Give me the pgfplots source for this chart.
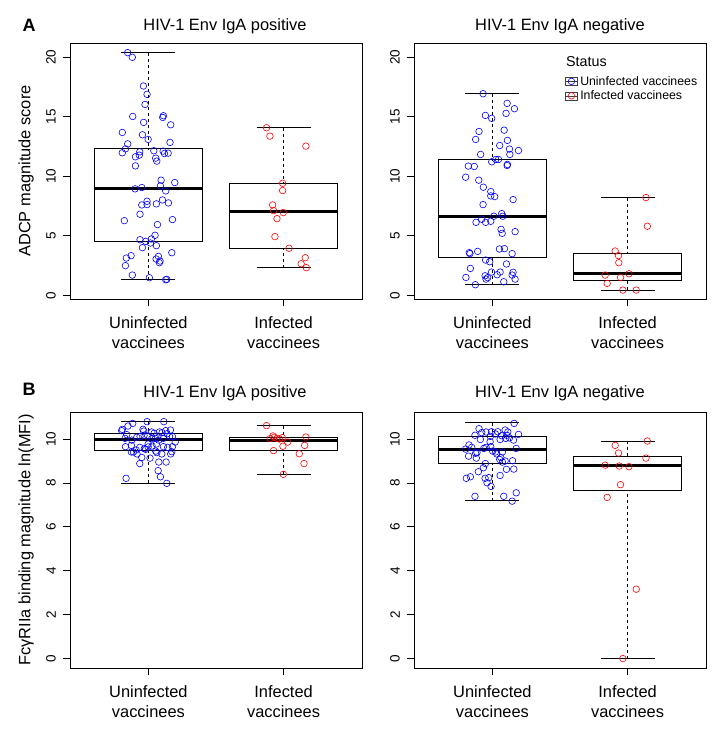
\documentclass[border=0pt]{standalone}
\usepackage{fontspec}
\setmainfont{Liberation Sans}
\usepackage{pgfplots}
\pgfplotsset{compat=1.18}
\usepgfplotslibrary{statistics}

\newcommand{\lbl}{\fontsize{16.4bp}{20bp}\selectfont}

\pgfplotsset{
  boxplot/draw/lower whisker/.code={
    \draw[black, line width=0.8bp, dash pattern=on 3bp off 3bp]
      (boxplot box cs:\pgfplotsboxplotvalue{lower whisker},0.5) -- (boxplot box cs:\pgfplotsboxplotvalue{lower quartile},0.5);
    \draw[black, line width=0.8bp]
      (boxplot whisker cs:\pgfplotsboxplotvalue{lower whisker},0) -- (boxplot whisker cs:\pgfplotsboxplotvalue{lower whisker},1);
  },
  boxplot/draw/upper whisker/.code={
    \draw[black, line width=0.8bp, dash pattern=on 3bp off 3bp]
      (boxplot box cs:\pgfplotsboxplotvalue{upper whisker},0.5) -- (boxplot box cs:\pgfplotsboxplotvalue{upper quartile},0.5);
    \draw[black, line width=0.8bp]
      (boxplot whisker cs:\pgfplotsboxplotvalue{upper whisker},0) -- (boxplot whisker cs:\pgfplotsboxplotvalue{upper whisker},1);
  },
  boxplot/every median/.style={line width=3bp},
  rbp/.style n args={6}{black, line width=0.8bp,
    boxplot prepared={draw direction=y, draw position=#1, lower whisker=#2, lower quartile=#3,
      median=#4, upper quartile=#5, upper whisker=#6,
      box extend=0.8, whisker extend=0.4}},
  uv/.style={only marks, mark=o, blue, mark size=3.3bp, mark options={line width=0.6bp}},
  iv/.style={only marks, mark=o, red, mark size=3.3bp, mark options={line width=0.6bp}},
  rpanel/.style={
    scale only axis, width=292bp, height=256bp,
    xmin=0.42, xmax=2.58,
    xtick={1,2}, xticklabels={Uninfected\\vaccinees, Infected\\vaccinees},
    xticklabel style={align=center, font=\lbl, inner sep=1bp, yshift=-9bp},
    tick align=outside, xtick pos=bottom, ytick pos=left,
    major tick length=7bp, minor tick num=0,
    yticklabel style={rotate=90, anchor=south, inner xsep=1bp, inner ysep=7bp, font=\fontsize{13.5bp}{16bp}\selectfont},
    /pgf/number format/assume math mode=true,
    axis line style={line width=0.8bp},
    every tick/.style={black, line width=0.8bp},
    title style={font=\lbl, at={(0.5,1)}, anchor=base, yshift=7bp},
    every axis y label/.style={at={(axis description cs:-0.150,0.5)}, rotate=90, anchor=center, font=\lbl},
  },
}

\begin{document}
\begin{tikzpicture}
\path (0,0) rectangle (722bp,-731bp);

\node[anchor=base west, font=\bfseries\fontsize{18bp}{20bp}\selectfont] at (19bp,-31bp) {A};
\node[anchor=base west, font=\bfseries\fontsize{18bp}{20bp}\selectfont] at (19bp,-395bp) {B};

% A, IgA positive
\begin{axis}[rpanel, at={(70bp,-43bp)}, anchor=north west,
  ymin=-0.3, ymax=21.2, ytick={0,5,10,15,20},
  title={HIV-1 Env IgA positive}, title style={xshift=9bp},
  ylabel={ADCP magnitude score}]
\addplot[rbp={1}{1.32}{4.54}{8.98}{12.31}{20.39}] coordinates {};
\addplot[rbp={2}{2.33}{3.96}{7.01}{9.40}{14.08}] coordinates {};
\addplot[uv] coordinates {
(0.847,20.39)(0.881,20.0)(0.963,17.59)(0.990,16.89)(0.975,16.04)(0.884,15.03)(1.111,15.09)(1.106,14.95)
(0.965,14.53)(1.165,14.33)(0.807,13.69)(0.956,13.49)(0.998,13.10)(0.847,12.73)(1.160,12.85)(0.830,12.31)
(0.807,11.98)(0.936,12.06)(1.040,12.15)(1.109,12.12)(0.933,11.78)(0.904,11.64)(1.119,11.92)(1.146,11.95)
(1.054,11.53)(1.062,11.28)(0.904,10.88)(1.094,9.68)(1.195,9.48)(0.901,8.95)(0.951,9.06)(1.089,9.20)
(1.128,8.78)(0.990,7.91)(1.104,8.02)(0.951,7.60)(0.990,7.63)(1.059,7.69)(1.148,7.77)(0.938,6.82)
(0.822,6.28)(1.067,5.95)(1.178,6.37)(1.049,5.05)(1.022,4.74)(0.938,4.68)(0.980,4.54)(1.015,4.40)
(0.956,4.01)(1.059,4.18)(1.173,3.59)(0.872,3.34)(0.837,3.14)(1.074,3.28)(1.057,3.06)(1.086,2.89)
(1.081,2.75)(0.830,2.50)(0.881,1.71)(1.007,1.49)(1.128,1.32)(1.136,1.35)
};
\addplot[iv] coordinates {
(1.874,14.08)(1.899,13.38)(2.165,12.54)(1.993,9.42)(1.993,8.81)(1.919,7.60)(1.926,7.12)
(1.998,6.96)(1.951,6.45)(1.936,4.94)(2.040,3.96)(2.160,3.17)(2.130,2.66)(2.168,2.33)
};
\end{axis}

% A, IgA negative
\begin{axis}[rpanel, at={(414bp,-43bp)}, anchor=north west,
  ymin=-0.3, ymax=21.2, ytick={0,5,10,15,20},
  title={HIV-1 Env IgA negative},
  legend style={at={(axis description cs:0.517,0.875)}, anchor=north west, draw=none, fill=none,
    inner sep=0pt, font=\fontsize{12.3bp}{14bp}\selectfont, row sep=2bp,
    nodes={inner xsep=2.5bp, inner ysep=1bp}},
  legend cell align=left]
\addlegendimage{legend image code/.code={
  \draw[black!75, line width=0.6bp] (0bp,-4bp) rectangle (12bp,4bp);
  \draw[black!75, line width=0.6bp] (0bp,0bp) -- (12bp,0bp);
  \draw[blue, line width=0.6bp] (6bp,0bp) circle (3.3bp);}}
\addlegendentry{Uninfected vaccinees}
\addlegendimage{legend image code/.code={
  \draw[black!75, line width=0.6bp] (0bp,-4bp) rectangle (12bp,4bp);
  \draw[black!75, line width=0.6bp] (0bp,0bp) -- (12bp,0bp);
  \draw[red, line width=0.6bp] (6bp,0bp) circle (3.3bp);}}
\addlegendentry{Infected vaccinees}
\node[anchor=base west, font=\fontsize{14.3bp}{16bp}\selectfont] at (axis description cs:0.509,0.910) {Status};
\addplot[rbp={1}{0.90}{3.23}{6.65}{11.39}{16.94}] coordinates {};
\addplot[rbp={2}{0.45}{1.26}{1.82}{3.51}{8.22}] coordinates {};
\addplot[uv] coordinates {
(0.931,16.94)(1.109,16.13)(1.163,15.68)(0.948,15.12)(0.995,14.87)(1.101,15.29)(0.901,13.77)(1.087,13.88)
(0.876,13.10)(1.111,13.02)(1.054,12.59)(1.126,12.29)(1.193,12.17)(0.913,11.84)(1.129,11.84)(0.995,11.22)
(1.025,11.42)(1.045,11.42)(1.111,11.00)(1.109,10.91)(0.822,10.86)(0.866,10.83)(0.802,9.93)(0.899,9.68)
(0.933,9.09)(0.988,8.72)(1.017,8.30)(0.988,8.36)(1.153,8.05)(0.931,7.63)(1.168,5.36)(1.064,5.55)
(1.072,5.22)(1.010,6.65)(1.069,6.87)(1.077,6.65)(0.921,6.40)(0.988,6.23)(0.950,6.14)(0.879,6.14)
(0.891,3.70)(0.829,3.59)(0.834,3.51)(1.052,3.90)(1.089,3.93)(1.146,3.51)(0.950,2.97)(0.980,2.83)
(1.104,2.64)(0.837,2.27)(0.993,1.96)(1.057,1.96)(1.153,1.94)(1.146,1.71)(1.035,1.74)(0.804,1.51)
(0.946,1.65)(0.965,1.49)(0.953,1.37)(1.168,1.37)(1.084,1.15)(0.874,0.90)
};
\addplot[iv] coordinates {
(2.136,8.22)(2.146,5.81)(1.908,3.73)(1.933,3.34)(1.935,2.75)(1.834,1.71)
(2.010,1.82)(1.948,1.51)(1.849,1.01)(1.965,0.45)(2.064,0.45)
};
\end{axis}

% B, IgA positive
\begin{axis}[rpanel, at={(70bp,-412bp)}, anchor=north west,
  ymin=-0.43, ymax=11.23, ytick={0,2,4,6,8,10},
  title={HIV-1 Env IgA positive}, title style={xshift=9bp, yshift=2bp},
  ylabel={FcγRIIa binding magnitude ln(MFI)}]
\addplot[rbp={1}{7.98}{9.47}{10.00}{10.26}{10.79}] coordinates {};
\addplot[rbp={2}{8.39}{9.48}{9.92}{10.08}{10.61}] coordinates {};
\addplot[uv] coordinates {
(0.807,10.44)(0.802,10.38)(0.849,10.59)(0.884,10.71)(0.990,10.79)(1.114,10.79)(0.960,10.44)(0.965,10.36)
(1.025,10.32)(1.042,10.26)(1.081,10.32)(1.101,10.29)(1.128,10.38)(1.163,10.41)(1.138,10.24)(1.178,10.11)
(1.198,9.86)(1.156,10.12)(1.111,10.03)(1.077,9.95)(0.840,10.20)(0.827,10.03)(0.877,9.95)(0.914,10.08)
(0.938,10.12)(0.968,10.17)(0.995,10.14)(1.025,10.02)(1.052,10.03)(0.830,9.65)(0.874,9.71)(0.909,9.50)
(0.936,9.62)(0.970,9.56)(0.998,9.64)(1.027,9.68)(1.059,9.77)(0.889,9.41)(0.916,9.32)(0.951,9.16)
(0.980,9.53)(1.012,9.13)(1.054,9.45)(1.062,9.38)(1.099,9.32)(1.165,9.32)(1.178,9.65)(1.173,9.42)
(0.835,8.21)(0.936,8.88)(1.072,8.56)(1.089,8.28)(1.136,7.98)(1.131,8.95)(1.077,8.95)(1.111,9.65)
(1.143,9.62)(0.874,9.41)(0.998,9.77)
};
\addplot[iv] coordinates {
(1.874,10.61)(1.921,10.14)(1.931,10.08)(1.951,10.03)(1.970,10.00)(1.990,10.06)(1.901,10.02)(2.030,9.86)
(2.165,10.09)(2.156,9.71)(1.995,9.67)(1.926,9.47)(2.116,9.33)(2.151,8.88)(1.998,8.39)
};
\end{axis}

% B, IgA negative
\begin{axis}[rpanel, at={(414bp,-412bp)}, anchor=north west,
  ymin=-0.43, ymax=11.23, ytick={0,2,4,6,8,10},
  title={HIV-1 Env IgA negative}, title style={yshift=2bp}]
\addplot[rbp={1}{7.19}{8.89}{9.54}{10.11}{10.74}] coordinates {};
\addplot[rbp={2}{0.00}{7.64}{8.80}{9.22}{9.91}] coordinates {};
\addplot[uv] coordinates {
(1.161,10.71)(0.901,10.47)(1.094,10.41)(0.921,10.29)(0.953,10.32)(0.993,10.33)(1.040,10.33)(1.114,10.32)
(1.193,10.21)(0.871,10.17)(0.985,10.12)(1.022,10.23)(1.069,10.15)(1.106,10.17)(1.126,10.05)(1.099,10.03)
(1.057,9.98)(1.156,9.95)(0.911,9.98)(0.983,9.88)(1.176,9.57)(0.827,9.73)(0.802,9.54)(0.847,9.62)
(0.876,9.35)(0.824,9.22)(0.881,9.13)(0.936,9.57)(0.953,9.62)(0.988,9.65)(1.002,9.45)(1.022,9.41)
(1.032,9.32)(1.062,9.16)(1.074,9.41)(0.886,9.39)(1.149,9.01)(1.094,9.00)(1.074,8.95)(1.054,9.07)
(0.948,8.88)(0.933,8.69)(1.104,8.62)(1.158,8.63)(0.896,8.51)(1.057,8.34)(0.807,8.21)(0.837,8.28)
(0.946,8.21)(0.973,8.24)(0.960,8.01)(0.990,7.84)(1.176,7.55)(0.871,7.39)(1.084,7.39)(1.146,7.17)
};
\addplot[iv] coordinates {
(2.146,9.91)(1.908,9.71)(1.933,9.36)(2.136,9.13)(1.834,8.81)(1.938,8.77)(2.010,8.74)(1.948,7.92)
(1.849,7.34)(2.064,3.16)(1.965,0.00)
};
\end{axis}
\end{tikzpicture}
\end{document}
